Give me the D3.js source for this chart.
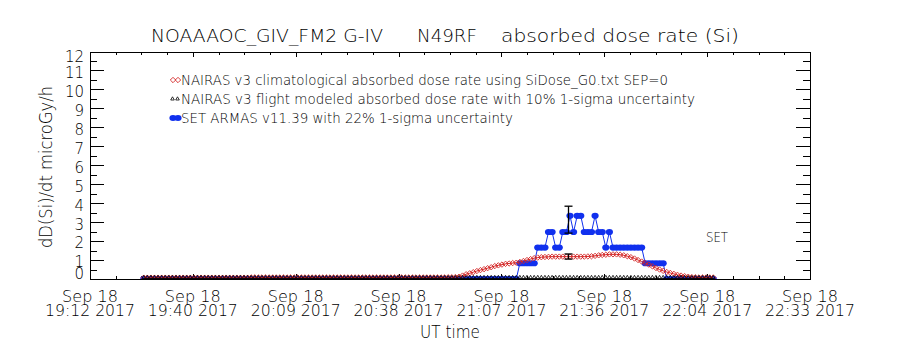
<!DOCTYPE html>
<html>
<head>
    <meta charset="UTF-8">
    <title>absorbed dose rate (Si)</title>
    <style>
        body { margin: 0; background: #fff; }
        text { font-family: "DejaVu Sans", "Liberation Sans", sans-serif; font-weight: 200; fill: #000; }
    </style>
</head>
<body>
    <div id="chart"></div>
    <script src="https://cdn.jsdelivr.net/npm/d3@7"></script>
    <script>

    // ---- data (minutes after 19:12 UT, 1-minute cadence) ----
    const axisStartMin = 0, axisEndMin = 201;      // 19:12 .. 22:33
    const sampleStartMin = 15;                    // first sample at 19:27

    const tickDayLabels = ["Sep 18", "Sep 18", "Sep 18", "Sep 18", "Sep 18", "Sep 18", "Sep 18", "Sep 18"];
    const tickTimeLabels = ["19:12 2017", "19:40 2017", "20:09 2017", "20:38 2017",
                            "21:07 2017", "21:36 2017", "22:04 2017", "22:33 2017"];
    const yTickValues = [0, 1, 2, 3, 4, 5, 6, 7, 8, 9, 10, 11, 12];

    // NAIRAS v3 climatological (red diamonds)
    const nairasClim = [
        0.07, 0.07, 0.07, 0.07, 0.07, 0.07, 0.07, 0.07, 0.07, 0.07,
        0.07, 0.07, 0.07, 0.07, 0.07, 0.07, 0.07, 0.07, 0.07, 0.07,
        0.07, 0.07, 0.07, 0.07, 0.07, 0.07, 0.07, 0.07, 0.07, 0.07,
        0.08, 0.08, 0.08, 0.08, 0.08, 0.08, 0.08, 0.08, 0.08, 0.08,
        0.08, 0.08, 0.08, 0.08, 0.08, 0.08, 0.08, 0.08, 0.08, 0.08,
        0.08, 0.08, 0.08, 0.08, 0.08, 0.08, 0.08, 0.08, 0.08, 0.08,
        0.08, 0.08, 0.08, 0.08, 0.08, 0.08, 0.08, 0.08, 0.08, 0.08,
        0.08, 0.08, 0.08, 0.08, 0.08, 0.08, 0.08, 0.08, 0.08, 0.08,
        0.08, 0.08, 0.08, 0.08, 0.08, 0.09, 0.09, 0.10,
        0.12, 0.18, 0.25, 0.30, 0.36, 0.42, 0.47, 0.52, 0.57, 0.62,
        0.68, 0.72, 0.76, 0.80, 0.82, 0.84, 0.86, 0.90, 0.95, 1.00,
        1.05, 1.10, 1.13, 1.15, 1.16, 1.17, 1.18, 1.18, 1.18, 1.18,
        1.18, 1.18, 1.18, 1.18, 1.18, 1.18, 1.19, 1.20, 1.22, 1.25,
        1.27, 1.28, 1.30, 1.30, 1.30, 1.28, 1.25, 1.20, 1.15, 1.08,
        1.00, 0.92, 0.84, 0.76, 0.67, 0.58, 0.50, 0.43, 0.37, 0.32,
        0.27, 0.22, 0.18, 0.15, 0.12, 0.10, 0.09, 0.08, 0.08, 0.08,
        0.08, 0.08
    ];

    // NAIRAS v3 flight modeled (black triangles)
    const nairasFlight = [
        0, 0, 0, 0, 0, 0, 0, 0, 0, 0, 0, 0, 0, 0, 0, 0, 0, 0, 0, 0,
        0, 0, 0, 0, 0, 0, 0, 0, 0, 0, 0, 0, 0, 0, 0, 0, 0, 0, 0, 0,
        0, 0, 0, 0, 0, 0, 0, 0, 0, 0, 0, 0, 0, 0, 0, 0, 0, 0, 0, 0,
        0, 0, 0, 0, 0, 0, 0, 0, 0, 0, 0, 0, 0, 0, 0, 0, 0, 0, 0, 0,
        0, 0, 0, 0, 0, 0, 0, 0, 0, 0, 0, 0, 0, 0, 0, 0, 0, 0, 0, 0,
        0, 0, 0, 0, 0, 0, 0, 0, 0, 0, 0, 0, 0, 0, 0, 0, 0, 0, 0, 0,
        0, 0, 0, 0, 0, 0, 0, 0, 0, 0, 0, 0, 0, 0, 0, 0, 0, 0, 0, 0,
        0, 0, 0, 0, 0, 0, 0, 0, 0, 0, 0, 0, 0, 0, 0, 0, 0, 0, 0, 0
    ];

    // SET ARMAS v11.39 (blue dots)
    const armas = [
        0, 0, 0, 0, 0, 0, 0, 0, 0, 0, 0, 0, 0, 0, 0, 0, 0, 0, 0, 0,
        0, 0, 0, 0, 0, 0, 0, 0, 0, 0, 0, 0, 0, 0, 0, 0, 0, 0, 0, 0,
        0, 0, 0, 0, 0, 0, 0, 0, 0, 0, 0, 0, 0, 0, 0, 0, 0, 0, 0, 0,
        0, 0, 0, 0, 0, 0, 0, 0, 0, 0, 0, 0, 0, 0, 0, 0, 0, 0, 0, 0,
        0, 0, 0, 0, 0, 0, 0, 0, 0, 0, 0, 0, 0, 0, 0, 0, 0, 0, 0, 0,
        0, 0, 0, 0, 0,
        0.83, 0.83, 0.83, 0.83, 0.83, 1.66, 1.66, 1.66, 2.48, 2.48,
        1.66, 1.66, 2.48, 2.48, 3.33, 2.48, 3.33, 3.33, 2.48, 2.48,
        2.48, 3.33, 2.48, 2.48, 1.66, 2.48, 1.66, 1.66, 1.66, 1.66,
        1.66, 1.66, 1.66, 1.66, 1.66, 0.83, 0.83, 0.83, 0.83, 0.83,
        0.83,
        0, 0, 0, 0, 0, 0, 0, 0, 0, 0, 0, 0, 0, 0
    ];

    // error bars drawn at one sample
    const errMin = 133.5;
    const armasErr = [2.42, 3.84];
    const nairasErr = [1.05, 1.32];

    const legendLabels = [
        "NAIRAS v3 climatological absorbed dose rate using SiDose_G0.txt SEP=0",
        "NAIRAS v3 flight modeled absorbed dose rate with 10% 1-sigma uncertainty",
        "SET ARMAS v11.39 with 22% 1-sigma uncertainty"
    ];

    // ---- layout ----
    const width = 900, height = 350;
    const plot = {left: 90, right: 810, top: 52, bottom: 279};
    const red = "#d42626", blue = "#1030ee";

    const svg = d3.select("#chart")
        .append("svg")
        .attr("width", width)
        .attr("height", height);

    const x = d3.scaleLinear().domain([axisStartMin, axisEndMin]).range([plot.left, plot.right]);
    const y = d3.scaleLinear().domain([0, 12]).range([plot.bottom, plot.top - 0.5]);

    svg.append("defs").append("clipPath").attr("id", "plotclip")
        .append("rect")
        .attr("x", plot.left).attr("y", plot.top)
        .attr("width", plot.right - plot.left).attr("height", plot.bottom - plot.top);

    // ---- frame and ticks ----
    const axes = svg.append("g").attr("stroke", "#000").attr("shape-rendering", "crispEdges");
    axes.append("rect")
        .attr("x", plot.left + 0.5).attr("y", plot.top + 0.5)
        .attr("width", plot.right - plot.left).attr("height", plot.bottom - plot.top)
        .attr("fill", "none");

    const nMajor = tickTimeLabels.length - 1;
    const majorMin = d3.range(nMajor + 1).map(i => axisStartMin + i * (axisEndMin - axisStartMin) / nMajor);
    const minorMin = d3.range(nMajor * 4 + 1).map(i => axisStartMin + i * (axisEndMin - axisStartMin) / (nMajor * 4));

    minorMin.forEach(m => {
        const isMajor = majorMin.some(v => Math.abs(v - m) < 1e-6);
        const len = isMajor ? 5 : 3;
        const px = Math.round(x(m)) + 0.5;
        axes.append("line").attr("x1", px).attr("x2", px)
            .attr("y1", plot.bottom).attr("y2", plot.bottom - len);
        axes.append("line").attr("x1", px).attr("x2", px)
            .attr("y1", plot.top).attr("y2", plot.top + len);
    });

    d3.range(0, 12.01, 0.5).forEach(v => {
        const len = Number.isInteger(v) ? 14 : 7;
        const py = Math.round(y(v)) + 0.5;
        axes.append("line").attr("x1", plot.left).attr("x2", plot.left + len)
            .attr("y1", py).attr("y2", py);
        axes.append("line").attr("x1", plot.right).attr("x2", plot.right - len)
            .attr("y1", py).attr("y2", py);
    });

    // y tick labels
    svg.append("g").selectAll("text")
        .data(yTickValues)
        .join("text")
        .attr("x", 84)
        .attr("y", d => Math.max(57, Math.min(274, y(d) + 2)))
        .attr("dy", "0.36em")
        .attr("text-anchor", "end")
        .style("font-size", "15px")
        .text(d => d);

    // x tick labels (two lines)
    const xl = svg.append("g").selectAll("g")
        .data(majorMin)
        .join("g");
    xl.append("text")
        .attr("x", d => x(d)).attr("y", 302)
        .attr("text-anchor", "middle")
        .attr("textLength", 56).attr("lengthAdjust", "spacingAndGlyphs")
        .style("font-size", "15px")
        .text((d, i) => tickDayLabels[i]);
    xl.append("text")
        .attr("x", d => x(d)).attr("y", 316)
        .attr("text-anchor", "middle")
        .attr("textLength", 90).attr("lengthAdjust", "spacingAndGlyphs")
        .style("font-size", "15px")
        .text((d, i) => tickTimeLabels[i]);

    // titles
    function label(txt, x0, y0, len, size) {
        return svg.append("text")
            .attr("x", x0).attr("y", y0)
            .attr("textLength", len).attr("lengthAdjust", "spacingAndGlyphs")
            .style("font-size", size + "px")
            .text(txt);
    }
    label("NOAAAOC_GIV_FM2 G-IV", 151, 42, 232, 17);
    label("N49RF", 417, 42, 60, 17);
    label("absorbed dose rate (Si)", 501, 42, 238, 17);
    label("UT time", 420, 338, 60, 17);
    label("SET", 706, 242, 22, 14);

    svg.append("text")
        .attr("transform", "translate(52,248) rotate(-90)")
        .attr("textLength", 162).attr("lengthAdjust", "spacingAndGlyphs")
        .style("font-size", "17px")
        .text("dD(Si)/dt microGy/h");

    // ---- series ----
    const pts = arr => arr.map((v, i) => ({t: sampleStartMin + i, v: v}));
    const clim = pts(nairasClim), flight = pts(nairasFlight), set = pts(armas);
    const lineGen = d3.line().x(d => x(d.t)).y(d => y(d.v));

    const data = svg.append("g").attr("clip-path", "url(#plotclip)");

    const diamond = "M0,-2.7L2.7,0L0,2.7L-2.7,0Z";
    const triangle = "M0,-2.2L1.8,1L-1.8,1Z";

    // SET ARMAS
    data.append("path").datum(set).attr("d", lineGen)
        .attr("fill", "none").attr("stroke", blue).attr("stroke-width", 1);
    data.append("g").selectAll("ellipse").data(set).join("ellipse")
        .attr("cx", d => x(d.t)).attr("cy", d => y(d.v))
        .attr("rx", 3.6).attr("ry", 3.1)
        .attr("fill", blue);

    // NAIRAS climatological
    data.append("path").datum(clim).attr("d", lineGen)
        .attr("fill", "none").attr("stroke", red).attr("stroke-width", 1);
    data.append("g").selectAll("path").data(clim).join("path")
        .attr("d", diamond)
        .attr("transform", d => `translate(${x(d.t)},${y(d.v)})`)
        .attr("fill", "none").attr("stroke", red).attr("stroke-width", 0.9);

    // NAIRAS flight modeled
    data.append("path").datum(flight).attr("d", lineGen)
        .attr("fill", "none").attr("stroke", "#000").attr("stroke-width", 1);
    data.append("g").selectAll("path").data(flight).join("path")
        .attr("d", triangle)
        .attr("transform", d => `translate(${x(d.t)},${y(d.v) - 1.5})`)
        .attr("fill", "none").attr("stroke", "#000").attr("stroke-width", 0.8);

    // error bars
    [armasErr, nairasErr].forEach(e => {
        const px = Math.round(x(errMin)) + 0.5;
        const g = data.append("g").attr("stroke", "#000").attr("stroke-width", 1.3);
        g.append("line").attr("x1", px).attr("x2", px).attr("y1", y(e[0])).attr("y2", y(e[1]));
        g.append("line").attr("x1", px - 4).attr("x2", px + 4).attr("y1", y(e[0])).attr("y2", y(e[0]));
        g.append("line").attr("x1", px - 4).attr("x2", px + 4).attr("y1", y(e[1])).attr("y2", y(e[1]));
    });

    // ---- legend ----
    const legY = [80, 99, 118];
    const legEnds = [668, 695, 513];
    const leg = svg.append("g");
    [173, 178].forEach(lx => {
        leg.append("path").attr("d", diamond).attr("transform", `translate(${lx},${legY[0]})`)
            .attr("fill", "none").attr("stroke", red).attr("stroke-width", 0.9);
        leg.append("path").attr("d", triangle).attr("transform", `translate(${lx - 0.5},${legY[1]})`)
            .attr("fill", "none").attr("stroke", "#000").attr("stroke-width", 0.8);
        leg.append("ellipse").attr("cx", lx).attr("cy", legY[2]).attr("rx", 3.6).attr("ry", 3)
            .attr("fill", blue);
    });
    leg.selectAll("text").data(legendLabels).join("text")
        .attr("x", 181)
        .attr("y", (d, i) => legY[i] + 5)
        .attr("textLength", (d, i) => legEnds[i] - 181)
        .attr("lengthAdjust", "spacingAndGlyphs")
        .style("font-size", "14px")
        .text(d => d);

    </script>
</body>
</html>
